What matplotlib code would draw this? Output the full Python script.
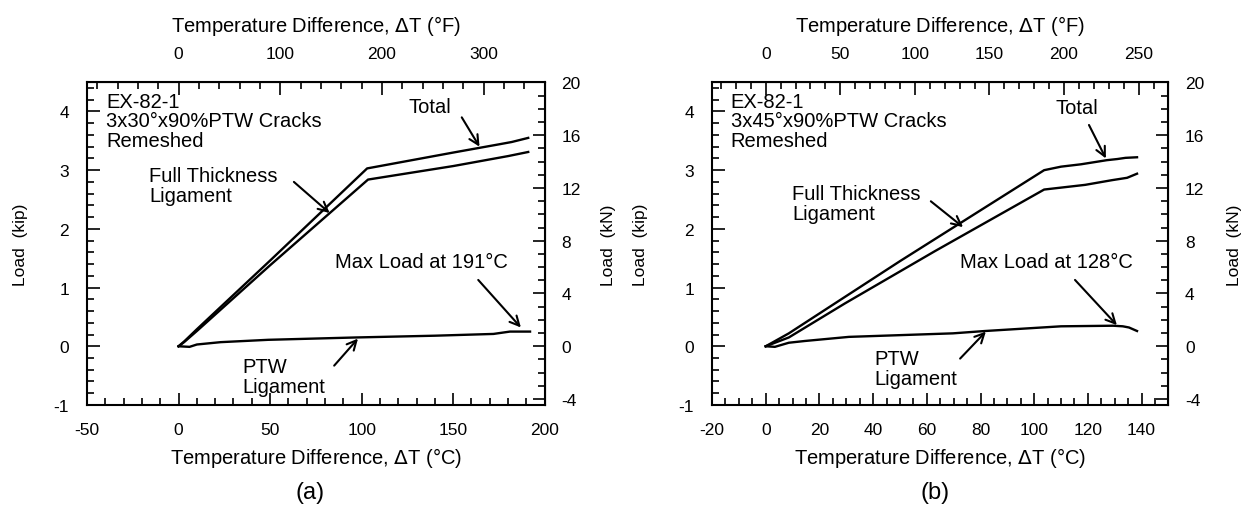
import matplotlib
matplotlib.use("Agg")
import matplotlib.pyplot as plt
from matplotlib.ticker import MultipleLocator

plt.rcParams['font.family'] = ['Liberation Sans', 'DejaVu Sans']
plt.rcParams['axes.unicode_minus'] = False

# (a) 3x30deg cracks: temperature difference (C) vs load (kip)
a_total_x = [0, 3, 10, 50, 103, 150, 175, 182, 191]
a_total_y = [0, 0.08, 0.29, 1.46, 3.03, 3.30, 3.44, 3.48, 3.55]
a_full_x = [0, 3, 10, 50, 103.5, 150, 180, 191]
a_full_y = [0, 0.07, 0.26, 1.38, 2.84, 3.07, 3.24, 3.31]
a_ptw_x = [0, 6, 10, 23, 49, 97, 140, 172, 181, 192]
a_ptw_y = [0, -0.01, 0.03, 0.07, 0.11, 0.15, 0.18, 0.21, 0.25, 0.25]

# (b) 3x45deg cracks
b_total_x = [0, 8.6, 50, 103.7, 110, 117.4, 127, 131, 134, 138.3]
b_total_y = [0, 0.22, 1.45, 3.00, 3.06, 3.10, 3.17, 3.19, 3.21, 3.22]
b_full_x = [0, 8.6, 29.5, 63, 103.7, 119, 129, 134.6, 138.3]
b_full_y = [0, 0.15, 0.73, 1.62, 2.67, 2.75, 2.83, 2.87, 2.94]
b_ptw_x = [0, 3.4, 8.6, 14.6, 31, 69.7, 81.7, 110, 129.4, 133, 135.3, 138.3]
b_ptw_y = [0, -0.01, 0.06, 0.09, 0.16, 0.22, 0.26, 0.34, 0.35, 0.34, 0.32, 0.26]

KN_PER_KIP = 4.448222
FS = 14.5


def c2f(x):
    return x * 1.8


def f2c(x):
    return x / 1.8


def kip2kn(y):
    return y * KN_PER_KIP


def kn2kip(y):
    return y / KN_PER_KIP


def arrow(ax, tail, tip):
    ax.annotate('', xy=tip, xytext=tail,
                arrowprops=dict(arrowstyle='->', lw=1.5, color='black',
                                mutation_scale=17, shrinkA=0, shrinkB=0))


def setup_axes(ax, xlim, xmaj, xmin, fmaj, fmin):
    ax.set_xlim(*xlim)
    ax.set_ylim(-1, 4.5)
    ax.xaxis.set_major_locator(MultipleLocator(xmaj))
    ax.xaxis.set_minor_locator(MultipleLocator(xmin))
    ax.yaxis.set_major_locator(MultipleLocator(1))
    ax.yaxis.set_minor_locator(MultipleLocator(0.2))
    ax.tick_params(which='both', direction='in', width=1.2, labelsize=12.5)
    ax.tick_params(axis='x', pad=12)
    ax.tick_params(axis='y', pad=13)
    ax.tick_params(which='major', length=9)
    ax.tick_params(which='minor', length=5)
    for s in ax.spines.values():
        s.set_linewidth(1.5)
    ax.set_xlabel('Temperature Difference, $\\Delta$T (°C)', fontsize=FS)
    ax.xaxis.set_label_coords(0.5, -0.125)

    top = ax.secondary_xaxis('top', functions=(c2f, f2c))
    top.xaxis.set_major_locator(MultipleLocator(fmaj))
    top.xaxis.set_minor_locator(MultipleLocator(fmin))
    top.tick_params(which='both', direction='in', width=1.2, labelsize=12.5, pad=15)
    top.tick_params(which='major', length=9)
    top.tick_params(which='minor', length=5)
    top.set_xlabel('Temperature Difference, $\\Delta$T (°F)', fontsize=FS, labelpad=11)

    right = ax.secondary_yaxis('right', functions=(kip2kn, kn2kip))
    right.yaxis.set_major_locator(MultipleLocator(4))
    right.yaxis.set_minor_locator(MultipleLocator(1))
    right.tick_params(which='both', direction='in', width=1.2, labelsize=12.5, pad=12)
    right.tick_params(which='major', length=9)
    right.tick_params(which='minor', length=5)


fig = plt.figure(figsize=(12.47, 5.10), dpi=100)
ax1 = fig.add_axes([0.0698, 0.204, 0.367, 0.633])
ax2 = fig.add_axes([0.571, 0.204, 0.366, 0.633])

# panel (a)
setup_axes(ax1, (-50, 200), 50, 10, 100, 20)
for xs, ys in [(a_total_x, a_total_y), (a_full_x, a_full_y), (a_ptw_x, a_ptw_y)]:
    ax1.plot(xs, ys, color='black', lw=1.7)
ax1.text(-39.7, 3.84, 'EX-82-1\n3x30°x90%PTW Cracks\nRemeshed', fontsize=FS,
         ha='left', va='center', linespacing=1.05)
ax1.text(137.5, 4.08, 'Total', fontsize=FS, ha='center', va='center')
ax1.text(-16, 2.735, 'Full Thickness\nLigament', fontsize=FS, ha='left', va='center',
         linespacing=1.05)
ax1.text(85.5, 1.45, 'Max Load at 191°C', fontsize=FS, ha='left', va='center')
ax1.text(34.8, -0.51, 'PTW\nLigament', fontsize=FS, ha='left', va='center', linespacing=1.05)
arrow(ax1, (154.7, 3.9), (164.4, 3.4))
arrow(ax1, (63, 2.8), (82.5, 2.27))
arrow(ax1, (85, -0.33), (98, 0.13))
arrow(ax1, (163.7, 1.13), (187, 0.32))

# panel (b)
setup_axes(ax2, (-20, 150), 20, 5, 50, 10)
for xs, ys in [(b_total_x, b_total_y), (b_full_x, b_full_y), (b_ptw_x, b_ptw_y)]:
    ax2.plot(xs, ys, color='black', lw=1.7)
ax2.text(-13, 3.84, 'EX-82-1\n3x45°x90%PTW Cracks\nRemeshed', fontsize=FS,
         ha='left', va='center', linespacing=1.05)
ax2.text(116, 4.06, 'Total', fontsize=FS, ha='center', va='center')
ax2.text(9.8, 2.43, 'Full Thickness\nLigament', fontsize=FS, ha='left', va='center',
         linespacing=1.05)
ax2.text(72.4, 1.45, 'Max Load at 128°C', fontsize=FS, ha='left', va='center')
ax2.text(40.4, -0.38, 'PTW\nLigament', fontsize=FS, ha='left', va='center', linespacing=1.05)
arrow(ax2, (120.4, 3.77), (126.7, 3.2))
arrow(ax2, (61.5, 2.47), (73.5, 2.03))
arrow(ax2, (72.4, -0.21), (82, 0.25))
arrow(ax2, (115.2, 1.13), (130.8, 0.36))

# y-axis titles
for xpix, txt in [(21, 'Load  (kip)'), (608, 'Load  (kN)'),
                  (640, 'Load  (kip)'), (1234, 'Load  (kN)')]:
    fig.text(xpix / 1247, 1 - 245 / 510, txt, fontsize=12.5, rotation=90,
             ha='center', va='center')

fig.text(310 / 1247, 1 - 493 / 510, '(a)', fontsize=17, ha='center', va='center')
fig.text(935 / 1247, 1 - 493 / 510, '(b)', fontsize=17, ha='center', va='center')

fig.savefig('out.png', dpi=100)
